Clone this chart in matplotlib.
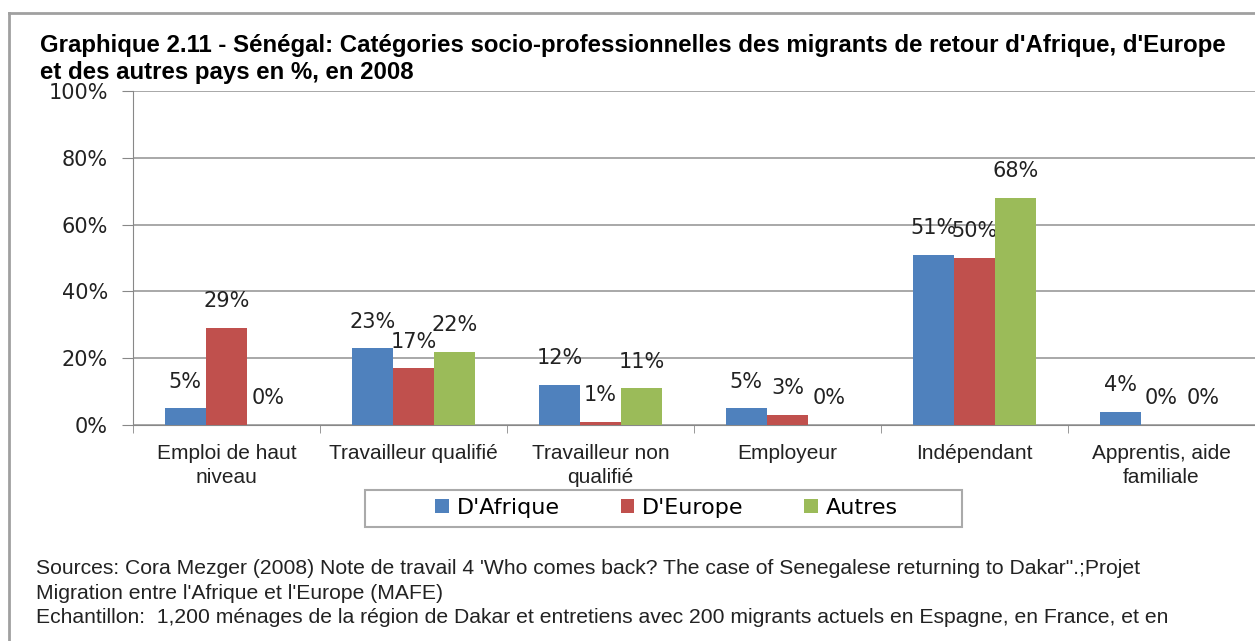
import numpy as np
import matplotlib.pyplot as plt
from matplotlib.lines import Line2D
from matplotlib.patches import Rectangle
from matplotlib.ticker import FuncFormatter

# categories and values (%)
categories = ['Emploi de haut\nniveau', 'Travailleur qualifié', 'Travailleur non\nqualifié',
              'Employeur', 'Indépendant', 'Apprentis, aide\nfamiliale']
afrique = [5, 23, 12, 5, 51, 4]
europe = [29, 17, 1, 3, 50, 0]
autres = [0, 22, 11, 0, 68, 0]
series = [('D\'Afrique', afrique, '#4F81BD'),
          ('D\'Europe', europe, '#C0504D'),
          ('Autres', autres, '#9BBB59')]

title = ("Graphique 2.11 - Sénégal: Catégories socio-professionnelles des migrants de retour d'Afrique, d'Europe\n"
         "et des autres pays en %, en 2008")
footer = ("Sources: Cora Mezger (2008) Note de travail 4 'Who comes back? The case of Senegalese returning to Dakar\".;Projet\n"
          "Migration entre l'Afrique et l'Europe (MAFE)\n"
          "Echantillon:  1,200 ménages de la région de Dakar et entretiens avec 200 migrants actuels en Espagne, en France, et en")

arial = ['Liberation Sans', 'DejaVu Sans']

fig = plt.figure(figsize=(12.55, 6.41), dpi=100)
ax = fig.add_axes([133 / 1255, 1 - 425 / 641, 1 - 133 / 1255, (425 - 91) / 641])

x = np.arange(len(categories))
w = 0.22
for i, (name, vals, col) in enumerate(series):
    pos = x + (i - 1) * w
    ax.bar(pos, vals, width=w, color=col, label=name, zorder=3)
    for px, v in zip(pos, vals):
        ax.annotate(f'{v}%', (px, v), xytext=(0, 12), textcoords='offset points',
                    ha='center', va='bottom', fontsize=15, color='#222222')

ax.set_xlim(-0.5, len(categories) - 0.5)
ax.set_ylim(0, 100)
ax.set_yticks(range(0, 101, 20))
ax.yaxis.set_major_formatter(FuncFormatter(lambda v, p: f'{v:.0f}%'))
ax.tick_params(axis='y', labelsize=15, length=8, pad=10, color='#888888', labelcolor='#222222')
ax.grid(axis='y', color='#999999', linewidth=1.2, zorder=0)

ax.set_xticks(x)
ax.set_xticklabels(categories)
for lab in ax.get_xticklabels():
    lab.set_fontfamily(arial)
    lab.set_fontsize(15)
    lab.set_color('#222222')
    lab.set_linespacing(1.3)
ax.tick_params(axis='x', length=0, pad=14)
ax.set_xticks(np.arange(-0.5, len(categories)), minor=True)
ax.tick_params(axis='x', which='minor', length=6, color='#888888')

for s in ['top', 'right']:
    ax.spines[s].set_visible(False)
ax.spines['left'].set_color('#888888')
ax.spines['bottom'].set_color('#888888')

# legend box drawn separately, Excel-style wide padding
fig.add_artist(Rectangle((365 / 1255, 1 - 527 / 641), (962 - 365) / 1255, 37 / 641,
                         transform=fig.transFigure, fill=False, edgecolor='#aaaaaa', linewidth=1.5))
leg = ax.legend(loc='center', bbox_to_anchor=((433 + 900) / 2 / 1255, 1 - 508 / 641),
                bbox_transform=fig.transFigure, ncol=3, fontsize=16, frameon=False,
                handlelength=0.6, handleheight=0.6, handletextpad=0.35, columnspacing=2.75)

fig.text(40 / 1255, 1 - 34 / 641, title, fontsize=17.3, fontweight='bold',
         family=arial, va='top', ha='left', linespacing=1.2)
fig.text(36 / 1255, 1 - 559 / 641, footer, fontsize=15.2, family=arial,
         va='top', ha='left', linespacing=1.38, color='#222222')

# chart frame
fig.add_artist(Line2D([9 / 1255, 1], [1 - 13 / 641] * 2, transform=fig.transFigure,
                      color='#a0a0a0', linewidth=2))
fig.add_artist(Line2D([9 / 1255] * 2, [0, 1 - 13 / 641], transform=fig.transFigure,
                      color='#a0a0a0', linewidth=2))

plt.savefig('out.png', dpi=100)
